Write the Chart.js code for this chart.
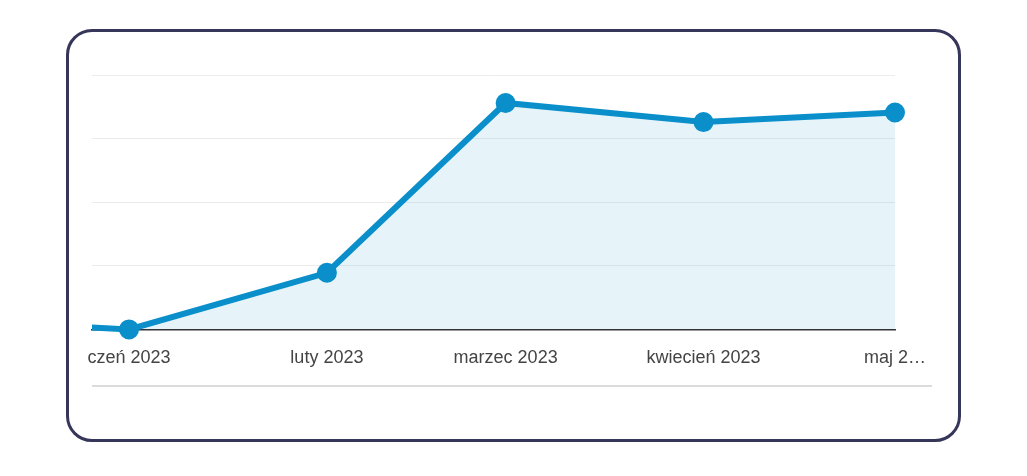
<!DOCTYPE html>
<html><head><meta charset="utf-8">
<script src="https://cdn.jsdelivr.net/npm/chart.js@4"></script>
<style>
html,body{margin:0;padding:0;background:#fff;width:1027px;height:476px;overflow:hidden}
#card{position:absolute;left:66px;top:29px;width:889px;height:407px;border:3px solid #36355a;border-radius:26px}
#wrap{position:absolute;left:0;top:0;width:1027px;height:476px}
</style></head><body>
<div id="card"></div>
<div id="wrap"><canvas id="c" width="1027" height="476"></canvas></div>
<script>
// days since 1 Jan 2023
const dayOffsets=[-31,0,31,59,90,120];
const values=[0.15,0,0.89,3.56,3.26,3.41];
const tickDays=[0,31,59,90,120];
const tickLabels=["czeń 2023","luty 2023","marzec 2023","kwiecień 2023","maj 2…"];
const underline={id:'underline',afterDraw(ch){const c=ch.ctx;c.save();c.strokeStyle='#cfcfcf';c.lineWidth=1.5;c.beginPath();c.moveTo(92,386);c.lineTo(932,386);c.stroke();c.restore();}};
new Chart(document.getElementById('c'),{
type:'line',
data:{datasets:[{data:dayOffsets.map((d,i)=>({x:d,y:values[i]})),borderColor:'#0a8fcb',borderWidth:6,backgroundColor:'rgba(10,143,203,0.1)',fill:'origin',pointRadius:[0,7,7,7,7,7],pointBackgroundColor:'#0a8fcb',pointBorderColor:'#0a8fcb',tension:0,clip:{left:0,right:false,top:false,bottom:false}}]},
options:{responsive:false,animation:false,devicePixelRatio:1,
layout:{padding:{left:92,right:132,top:75,bottom:97}},
plugins:{legend:{display:false},tooltip:{enabled:false}},
scales:{
x:{type:'linear',min:-5.8,max:120,
afterBuildTicks(s){s.ticks=tickDays.map(v=>({value:v}));},
ticks:{autoSkip:false,maxRotation:0,padding:10,color:'#444',font:{family:'Liberation Sans, Arial',size:18},callback:(v)=>tickLabels[tickDays.indexOf(v)]},
grid:{display:false},border:{display:true,color:'#333',width:1.5}},
y:{display:true,min:0,max:4,ticks:{display:false,stepSize:1},grid:{color:'#ececec',drawTicks:false},border:{display:false}}
}},
plugins:[underline]
});
</script>
</body></html>
